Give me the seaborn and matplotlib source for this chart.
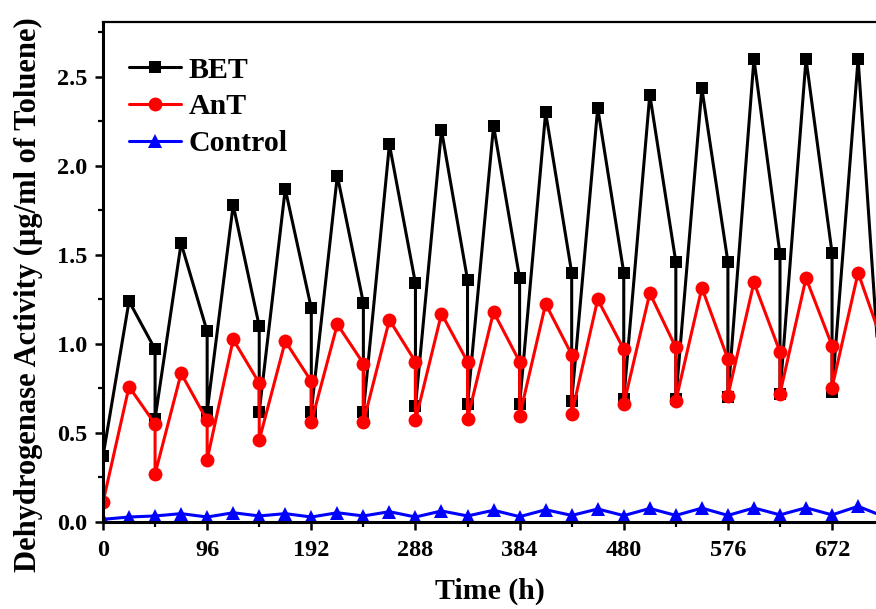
import matplotlib
matplotlib.use("Agg")
import matplotlib.pyplot as plt
import seaborn as sns
import pandas as pd
from matplotlib.ticker import MultipleLocator

# ---- data ----
bet_time = [0, 24, 48, 48, 72, 96, 96, 120, 144, 144, 168, 192, 192, 216, 240, 240,
            264, 288, 288, 312, 336, 336, 360, 384, 384, 408, 432, 432, 456, 480, 480,
            504, 528, 528, 552, 576, 576, 600, 624, 624, 648, 672, 672, 696, 720]
bet_vals = [0.37, 1.24, 0.97, 0.58, 1.565, 1.07, 0.62, 1.78, 1.10, 0.62, 1.87, 1.20, 0.62,
            1.945, 1.23, 0.62, 2.12, 1.34, 0.65, 2.20, 1.36, 0.66, 2.225, 1.37, 0.66,
            2.30, 1.40, 0.68, 2.325, 1.40, 0.69, 2.40, 1.46, 0.69, 2.435, 1.46, 0.70,
            2.60, 1.505, 0.72, 2.60, 1.51, 0.73, 2.60, 0.45]

ant_time = bet_time
ant_vals = [0.11, 0.76, 0.55, 0.27, 0.835, 0.57, 0.35, 1.025, 0.78, 0.46, 1.015, 0.79, 0.56,
            1.11, 0.89, 0.56, 1.135, 0.90, 0.57, 1.17, 0.90, 0.58, 1.18, 0.90, 0.595,
            1.225, 0.94, 0.605, 1.25, 0.97, 0.66, 1.285, 0.98, 0.68, 1.315, 0.915, 0.71,
            1.345, 0.955, 0.72, 1.37, 0.99, 0.755, 1.40, 0.98]

ctrl_time = [0, 24, 48, 72, 96, 120, 144, 168, 192, 216, 240, 264, 288, 312, 336, 360,
             384, 408, 432, 456, 480, 504, 528, 552, 576, 600, 624, 648, 672, 696, 720]
ctrl_vals = [0.015, 0.028, 0.034, 0.047, 0.028, 0.052, 0.034, 0.047, 0.028, 0.052, 0.034,
             0.058, 0.028, 0.062, 0.034, 0.066, 0.030, 0.069, 0.037, 0.073, 0.036, 0.076,
             0.037, 0.078, 0.037, 0.079, 0.040, 0.080, 0.040, 0.088, 0.03]

series_names = ["BET", "AnT", "Control"]
x_ticks = [0, 96, 192, 288, 384, 480, 576, 672]
y_ticks = [0.0, 0.5, 1.0, 1.5, 2.0, 2.5]

sns.set_style("ticks")
plt.rcParams["font.family"] = ["Liberation Serif", "DejaVu Serif"]
plt.rcParams["font.weight"] = "bold"
plt.rcParams["axes.labelweight"] = "bold"
plt.rcParams["text.color"] = "black"
plt.rcParams["axes.labelcolor"] = "black"
plt.rcParams["xtick.color"] = "black"
plt.rcParams["ytick.color"] = "black"

fig = plt.figure(figsize=(8.76, 6.09), dpi=100)
W, H = 876, 609
left, bottom, top = 103, 522, 22.5
ax = fig.add_axes([left / W, 1 - bottom / H, (W - left) / W, (bottom - top) / H])

styles = {
    "BET": dict(color="black", marker="s", markersize=8.5),
    "AnT": dict(color="red", marker="o", markersize=10),
    "Control": dict(color="blue", marker="^", markersize=10),
}
data = {
    "BET": (bet_time, bet_vals),
    "AnT": (ant_time, ant_vals),
    "Control": (ctrl_time, ctrl_vals),
}
for name in series_names:
    t, v = data[name]
    df = pd.DataFrame({"Time": t, "Value": v})
    st = styles[name]
    sns.lineplot(data=df, x="Time", y="Value", ax=ax, estimator=None, sort=False,
                 color=st["color"], marker=st["marker"], markersize=st["markersize"],
                 markeredgewidth=0, linewidth=2.2, label=name, clip_on=True)

ax.set_xlim(0, 712.5)
ax.set_ylim(0, 2.805)
ax.set_xticks(x_ticks)
ax.set_yticks(y_ticks)
ax.set_xticklabels([str(v) for v in x_ticks])
ax.set_yticklabels([f"{v:.1f}" for v in y_ticks])
ax.xaxis.set_minor_locator(MultipleLocator(48))
ax.yaxis.set_minor_locator(MultipleLocator(0.25))

for s in ["left", "bottom"]:
    ax.spines[s].set_linewidth(2.2)
    ax.spines[s].set_color("black")
ax.spines["top"].set_linewidth(1.6)
ax.spines["top"].set_color("black")
ax.spines["right"].set_visible(False)

ax.tick_params(axis="both", which="major", direction="out", length=6, width=1.8,
               labelsize=17.5, colors="black")
ax.tick_params(axis="x", which="major", pad=7)
ax.tick_params(axis="y", which="major", pad=5)
ax.tick_params(axis="both", which="minor", direction="out", length=3.5, width=1.6,
               colors="black")
ax.tick_params(axis="both", which="both", top=False, right=False)
for lab in ax.get_xticklabels() + ax.get_yticklabels():
    lab.set_fontweight("bold")
    lab.set_color("black")

ax.set_xlabel("Time (h)", fontsize=21.5, fontweight="bold", labelpad=12, color="black")
ax.set_ylabel("Dehydrogenase Activity (µg/ml of Toluene)", fontsize=22,
              fontweight="bold", color="black")
ax.yaxis.set_label_coords(-0.077, 0.456)

leg = ax.legend(loc="upper left", bbox_to_anchor=(0.018, 0.955), frameon=False,
                fontsize=21.5, handlelength=1.75, handletextpad=0.25, labelspacing=0.32,
                borderaxespad=0.0)
for txt in leg.get_texts():
    txt.set_fontweight("bold")
    txt.set_color("black")
ax.grid(False)

fig.savefig("out.png", dpi=100)
